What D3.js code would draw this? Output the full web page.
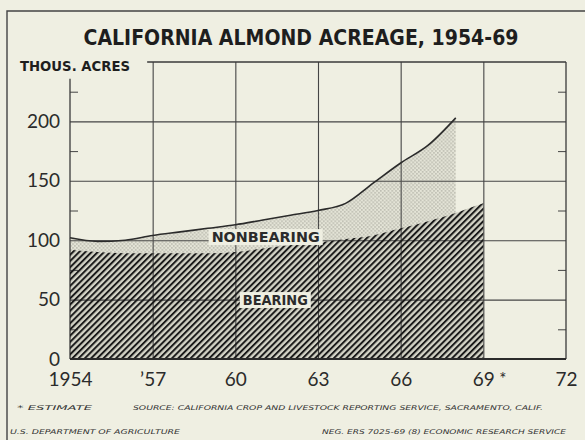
<!DOCTYPE html>
<html>
<head>
<meta charset="utf-8">
<script src="https://cdn.jsdelivr.net/npm/d3@7"></script>
<style>
  html, body { margin: 0; padding: 0; background: #efefe2; }
  svg { display: block; }
</style>
</head>
<body>
<svg id="chart" width="585" height="440"></svg>
<script>
// Values (thousand acres)
const years = [1954, 1955, 1956, 1957, 1958, 1959, 1960, 1961, 1962, 1963, 1964, 1965, 1966, 1967, 1968, 1969]
const bearing = [92, 90, 89, 89, 89, 89, 90, 93, 96, 98, 101, 104, 110, 116, 123, 131]
// nonbearing stops at 1968
const nonbearing = [10, 9, 11, 15, 18, 21, 23, 24, 25, 27, 30, 44, 55, 64, 80]

const xTicks = [1954, 1957, 1960, 1963, 1966, 1969, 1972]
const xLabels = ['1954', '\u201957', '60', '63', '66', '69', '72']
const gridYears = [1957, 1960, 1963, 1966, 1969]
const yTicks = [0, 50, 100, 150, 200]
const yGrid = [50, 100, 150, 200]
const yMinor = [25, 75, 125, 175, 225]

const ink = '#2b2b2b'
const svg = d3.select('#chart')

const x = d3.scaleLinear().domain([1954, 1972]).range([70, 566])
const y = d3.scaleLinear().domain([0, 250]).range([359, 62])

const rows = years.map((yr, i) => ({ year: yr, bearing: bearing[i], nonbearing: nonbearing[i] }))
const stacked = d3.stack().keys(['bearing', 'nonbearing'])(rows)

// Patterns
const defs = svg.append('defs')
const hatch = defs.append('pattern')
  .attr('id', 'hatch')
  .attr('patternUnits', 'userSpaceOnUse')
  .attr('width', 4.4)
  .attr('height', 4.4)
  .attr('patternTransform', 'rotate(45)')
hatch.append('line')
  .attr('x1', 1).attr('x2', 1)
  .attr('y1', -1).attr('y2', 5.4)
  .attr('stroke', '#1a1a1a')
  .attr('stroke-width', 2)

const dots = defs.append('pattern')
  .attr('id', 'dots')
  .attr('patternUnits', 'userSpaceOnUse')
  .attr('width', 3.8)
  .attr('height', 3.8)
dots.append('circle').attr('cx', 0.9).attr('cy', 0.9).attr('r', 0.55).attr('fill', '#77776d')
dots.append('circle').attr('cx', 2.8).attr('cy', 2.8).attr('r', 0.55).attr('fill', '#77776d')

const area = d3.area()
  .defined(d => !isNaN(d[1]))
  .x(d => x(d.data.year))
  .y0(d => y(d[0]))
  .y1(d => y(d[1]))
  .curve(d3.curveMonotoneX)

// Base tones of the areas
svg.append('path').datum(stacked[0]).attr('d', area).attr('fill', '#d3d3c6')
svg.append('path').datum(stacked[1]).attr('d', area).attr('fill', '#e4e4d7')

// Grid
const plotH = y(0) - y(250)
const plotW = x(1972) - x(1954)

svg.append('g')
  .attr('transform', `translate(0,${y(0)})`)
  .call(d3.axisBottom(x).tickValues(gridYears).tickSize(-plotH).tickFormat(''))
  .call(g => g.select('.domain').remove())
  .call(g => g.selectAll('line').attr('stroke', '#454545').attr('stroke-width', 1.1))

svg.append('g')
  .attr('transform', `translate(${x(1954)},0)`)
  .call(d3.axisLeft(y).tickValues(yGrid).tickSize(-plotW).tickFormat(''))
  .call(g => g.select('.domain').remove())
  .call(g => g.selectAll('line').attr('stroke', '#454545').attr('stroke-width', 1.1))

// Minor ticks, left and right
svg.append('g')
  .attr('transform', `translate(${x(1954)},0)`)
  .call(d3.axisRight(y).tickValues(yMinor).tickSize(8).tickFormat(''))
  .call(g => g.select('.domain').remove())
  .call(g => g.selectAll('line').attr('stroke', '#454545'))

svg.append('g')
  .attr('transform', `translate(${x(1972)},0)`)
  .call(d3.axisLeft(y).tickValues(yMinor).tickSize(8).tickFormat(''))
  .call(g => g.select('.domain').remove())
  .call(g => g.selectAll('line').attr('stroke', '#454545'))

// Frame lines of the plot
svg.append('line')
  .attr('x1', x(1954)).attr('x2', x(1954))
  .attr('y1', y(236)).attr('y2', y(0))
  .attr('stroke', '#3a3a3a').attr('stroke-width', 1.3)
svg.append('line')
  .attr('x1', x(1972)).attr('x2', x(1972))
  .attr('y1', y(250)).attr('y2', y(0))
  .attr('stroke', '#3a3a3a').attr('stroke-width', 1.3)
svg.append('line')
  .attr('x1', x(1956.8)).attr('x2', x(1972))
  .attr('y1', y(250)).attr('y2', y(250))
  .attr('stroke', '#3a3a3a').attr('stroke-width', 1.3)

// Pattern overlays
svg.append('path').datum(stacked[0]).attr('d', area).attr('fill', 'url(#hatch)')
svg.append('path').datum(stacked[1]).attr('d', area).attr('fill', 'url(#dots)')

// Total outline
svg.append('path')
  .datum(stacked[1])
  .attr('d', d3.line()
    .defined(d => !isNaN(d[1]))
    .x(d => x(d.data.year))
    .y(d => y(d[1]))
    .curve(d3.curveMonotoneX))
  .attr('fill', 'none')
  .attr('stroke', ink)
  .attr('stroke-width', 1.6)

// Bottom axis line
svg.append('line')
  .attr('x1', x(1954)).attr('x2', x(1972))
  .attr('y1', y(0)).attr('y2', y(0))
  .attr('stroke', ink).attr('stroke-width', 2.2)

// Axis labels
const labelFont = 'Lato, "Open Sans", sans-serif'
svg.append('g')
  .attr('transform', `translate(${x(1954)},0)`)
  .call(d3.axisLeft(y).tickValues(yTicks).tickSize(0).tickPadding(10))
  .call(g => g.select('.domain').remove())
  .call(g => g.selectAll('text')
    .attr('font-family', labelFont).attr('font-size', 19).attr('fill', ink))

const xAxis = svg.append('g')
  .attr('transform', `translate(0,${y(0)})`)
  .call(d3.axisBottom(x).tickValues(xTicks).tickSize(0).tickPadding(14)
    .tickFormat((d, i) => xLabels[i]))
  .call(g => g.select('.domain').remove())
xAxis.selectAll('text')
  .attr('font-family', labelFont).attr('font-size', 19).attr('fill', ink)
xAxis.selectAll('.tick').filter(d => d === 1969)
  .append('text')
  .attr('x', 19).attr('y', 14).attr('dy', '0.71em')
  .attr('font-family', labelFont).attr('font-size', 17).attr('fill', ink)
  .attr('text-anchor', 'middle')
  .text('*')

// Area labels with knocked-out background
function areaLabel(text, yr, val, len) {
  const g = svg.append('g')
  const bg = g.append('rect').attr('fill', '#efefe2')
  const t = g.append('text')
    .attr('x', x(yr)).attr('y', y(val))
    .attr('dy', '0.36em')
    .attr('text-anchor', 'middle')
    .attr('font-family', '"DejaVu Sans", sans-serif')
    .attr('font-weight', 'bold')
    .attr('font-size', 13.5)
    .attr('fill', ink)
    .attr('textLength', len)
    .attr('lengthAdjust', 'spacingAndGlyphs')
    .text(text)
  const b = t.node().getBBox()
  bg.attr('x', b.x - 3).attr('y', b.y).attr('width', b.width + 6).attr('height', b.height)
}
areaLabel('NONBEARING', 1961.1, 102.5, 108)
areaLabel('BEARING', 1961.45, 49.5, 65)

// Title and unit label
svg.append('text')
  .attr('x', 301).attr('y', 45)
  .attr('text-anchor', 'middle')
  .attr('font-family', '"Liberation Sans Narrow", "DejaVu Sans", sans-serif')
  .attr('font-weight', 'bold')
  .attr('font-size', 21)
  .attr('fill', '#1e1e1e')
  .attr('textLength', 435)
  .attr('lengthAdjust', 'spacingAndGlyphs')
  .text('CALIFORNIA ALMOND ACREAGE, 1954-69')

svg.append('text')
  .attr('x', 20).attr('y', 71)
  .attr('font-family', '"DejaVu Sans", sans-serif')
  .attr('font-weight', 'bold')
  .attr('font-size', 13.5)
  .attr('fill', '#1e1e1e')
  .attr('textLength', 110)
  .attr('lengthAdjust', 'spacingAndGlyphs')
  .text('THOUS. ACRES')

// Footnotes
const foot = [
  { text: '* ESTIMATE', x: 17, y: 410, len: 75 },
  { text: 'SOURCE: CALIFORNIA CROP AND LIVESTOCK REPORTING SERVICE, SACRAMENTO, CALIF.', x: 133, y: 410, len: 410 },
  { text: 'U.S. DEPARTMENT OF AGRICULTURE', x: 10, y: 434, len: 170 },
  { text: 'NEG. ERS 7025-69 (8)   ECONOMIC RESEARCH SERVICE', x: 322, y: 434, len: 244 }
]
svg.selectAll('text.foot')
  .data(foot)
  .join('text')
  .attr('class', 'foot')
  .attr('x', d => d.x).attr('y', d => d.y)
  .attr('font-family', '"DejaVu Sans", sans-serif')
  .attr('font-style', 'italic')
  .attr('font-size', 6.5)
  .attr('fill', '#333')
  .attr('textLength', d => d.len)
  .attr('lengthAdjust', 'spacingAndGlyphs')
  .text(d => d.text)

// Outer frame
svg.append('path')
  .attr('d', 'M7,440 V11 H585')
  .attr('fill', 'none')
  .attr('stroke', '#444')
  .attr('stroke-width', 1.4)
</script>
</body>
</html>
